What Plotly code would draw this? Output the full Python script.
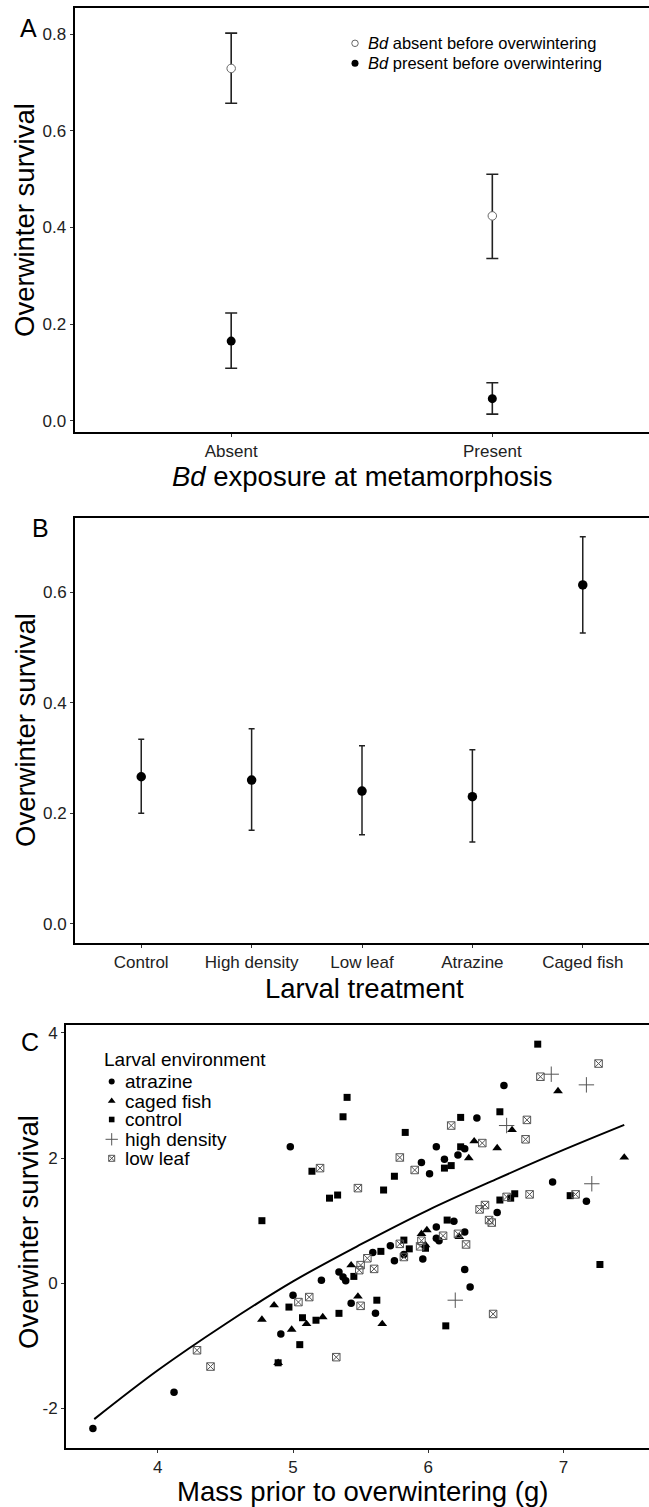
import plotly.graph_objects as go

W, H = 649, 1507
FONT = "Liberation Sans, Arial, sans-serif"

# ---------------- Panel A data ----------------
A_categories = ["Absent", "Present"]
A_absent_mean = [0.729, 0.424]      # Bd absent before overwintering (open)
A_absent_upper = [0.802, 0.510]
A_absent_lower = [0.657, 0.336]
A_present_mean = [0.165, 0.046]     # Bd present before overwintering (filled)
A_present_upper = [0.223, 0.079]
A_present_lower = [0.109, 0.014]
A_yticks = [0.0, 0.2, 0.4, 0.6, 0.8]

# ---------------- Panel B data ----------------
B_categories = ["Control", "High density", "Low leaf", "Atrazine", "Caged fish"]
B_mean = [0.266, 0.260, 0.240, 0.230, 0.613]
B_upper = [0.334, 0.353, 0.322, 0.315, 0.700]
B_lower = [0.200, 0.169, 0.161, 0.148, 0.526]
B_yticks = [0.0, 0.2, 0.4, 0.6]

# ---------------- Panel C data ----------------
atrazine_x = [4.98, 6.56, 6.36, 6.06, 6.27, 6.22, 6.12, 5.95, 6.01, 6.92, 7.17, 6.51, 6.19, 6.06,
              6.06, 6.08, 6.27, 5.72, 5.82, 5.75, 5.96, 5.59, 5.34, 5.37, 5.39, 5.43, 5.61, 6.27,
              6.31, 3.52, 4.12, 4.91, 5.00, 5.21]
atrazine_y = [2.18, 3.16, 2.64, 2.18, 2.15, 2.05, 1.98, 1.93, 1.75, 1.62, 1.31, 1.13, 0.99, 0.90,
              0.72, 0.68, 0.82, 0.60, 0.46, 0.36, 0.39, 0.49, 0.18, 0.10, 0.04, -0.32, -0.48, 0.22,
              -0.06, -2.32, -1.74, -0.81, -0.19, 0.05]
caged_x = [6.96, 6.62, 6.34, 6.51, 6.30, 7.45, 5.99, 5.95, 6.23, 5.98, 5.43, 5.48, 5.66, 4.77,
           4.86, 4.89, 4.99, 5.10, 5.22]
caged_y = [3.07, 2.45, 2.27, 2.16, 2.00, 2.01, 0.85, 0.79, 0.74, 0.61, 0.29, -0.21, -0.65, -0.58,
           -0.35, -1.27, -0.74, -0.65, -0.54]
control_x = [5.40, 5.37, 5.14, 5.27, 5.33, 4.77, 6.81, 6.53, 6.24, 5.83, 6.24, 6.17, 6.12, 5.75,
             5.67, 7.05, 6.64, 6.61, 6.53, 6.14, 5.82, 5.98, 5.86, 5.65, 5.45, 5.62, 5.34, 6.13,
             7.27, 4.89, 4.97, 5.07, 5.05, 5.17]
control_y = [2.97, 2.66, 1.79, 1.36, 1.41, 1.00, 3.82, 2.74, 2.65, 2.41, 2.18, 1.88, 1.84, 1.71,
             1.49, 1.40, 1.43, 1.36, 1.33, 1.01, 0.69, 0.56, 0.55, 0.51, 0.11, -0.27, -0.48, -0.68,
             0.30, -1.27, -0.38, -0.55, -0.98, -0.59]
highdens_x = [6.91, 7.17, 6.58, 7.21, 6.20]
highdens_y = [3.34, 3.17, 2.52, 1.59, -0.27]
lowleaf_x = [5.20, 5.48, 7.26, 6.83, 6.17, 6.73, 6.72, 6.40, 5.79, 5.90, 7.09, 6.75, 6.58, 6.42,
             6.38, 6.45, 6.47, 6.11, 6.22, 6.28, 5.79, 5.95, 5.94, 5.82, 5.55, 5.50, 5.49, 5.60,
             5.50, 5.32, 6.48, 4.29, 4.39, 5.04, 5.12]
lowleaf_y = [1.84, 1.52, 3.51, 3.30, 2.52, 2.61, 2.30, 2.24, 2.01, 1.81, 1.42, 1.42, 1.38, 1.25,
             1.18, 1.01, 0.97, 0.76, 0.79, 0.62, 0.63, 0.68, 0.59, 0.42, 0.40, 0.29, 0.21, 0.23,
             -0.36, -1.18, -0.49, -1.07, -1.33, -0.30, -0.22]
curve_x = [3.53, 4.0, 4.5, 5.0, 5.5, 6.0, 6.5, 7.0, 7.45]
curve_y = [-2.17, -1.39, -0.65, 0.03, 0.62, 1.17, 1.66, 2.13, 2.53]
C_xticks = [4, 5, 6, 7]
C_yticks = [-2, 0, 2, 4]

C_groups = [
    ("atrazine", atrazine_x, atrazine_y, dict(symbol="circle", size=7.5, color="black")),
    ("caged fish", caged_x, caged_y, dict(symbol="triangle-up", size=8.5, color="black")),
    ("control", control_x, control_y, dict(symbol="square", size=7, color="black")),
    ("high density", highdens_x, highdens_y,
     dict(symbol="cross-thin-open", size=11, color="#555", line=dict(width=1, color="#555"))),
    ("low leaf", lowleaf_x, lowleaf_y,
     dict(symbol="square-x-open", size=7.5, color="#555", line=dict(width=1, color="#555"))),
]

# ---------------- layout constants (pixels) ----------------
A_box = (74.5, 8, 649, 432)
B_box = (75, 518, 649, 942.6)
C_box = (66, 1025, 649, 1448)


def xdom(b):
    return [b[0] / W, b[2] / W]


def ydom(b):
    return [1 - b[3] / H, 1 - b[1] / H]


fig = go.Figure()

# Panel A
fig.add_trace(go.Scatter(
    x=A_categories, y=A_absent_mean, mode="markers", xaxis="x", yaxis="y",
    marker=dict(symbol="circle", size=8.5, color="white", line=dict(width=1, color="#666")),
    error_y=dict(type="data", symmetric=False,
                 array=[u - m for u, m in zip(A_absent_upper, A_absent_mean)],
                 arrayminus=[m - l for m, l in zip(A_absent_mean, A_absent_lower)],
                 color="#222", thickness=1.6, width=6),
    showlegend=False))
fig.add_trace(go.Scatter(
    x=A_categories, y=A_present_mean, mode="markers", xaxis="x", yaxis="y",
    marker=dict(symbol="circle", size=9, color="black"),
    error_y=dict(type="data", symmetric=False,
                 array=[u - m for u, m in zip(A_present_upper, A_present_mean)],
                 arrayminus=[m - l for m, l in zip(A_present_mean, A_present_lower)],
                 color="#222", thickness=1.6, width=6),
    showlegend=False))

# Panel B
fig.add_trace(go.Scatter(
    x=B_categories, y=B_mean, mode="markers", xaxis="x2", yaxis="y2",
    marker=dict(symbol="circle", size=9.5, color="black"),
    error_y=dict(type="data", symmetric=False,
                 array=[u - m for u, m in zip(B_upper, B_mean)],
                 arrayminus=[m - l for m, l in zip(B_mean, B_lower)],
                 color="#222", thickness=1.5, width=3),
    showlegend=False))

# Panel C
for name, xs, ys, mk in C_groups:
    fig.add_trace(go.Scatter(x=xs, y=ys, mode="markers", xaxis="x3", yaxis="y3",
                             marker=mk, name=name, showlegend=False))
fig.add_trace(go.Scatter(x=curve_x, y=curve_y, mode="lines", xaxis="x3", yaxis="y3",
                         line=dict(color="black", width=2, shape="spline", smoothing=1.0),
                         showlegend=False))

# Legend keys on a full-page pixel overlay axis
legA = [(355, 43.3, dict(symbol="circle", size=6.5, color="white", line=dict(width=1, color="#666"))),
        (355, 63.3, dict(symbol="circle", size=7, color="black"))]
legA_text = ["<i>Bd</i> absent before overwintering", "<i>Bd</i> present before overwintering"]
legC_rows = [1081.5, 1101, 1119.5, 1139.3, 1158.3]
legC_key_x = 111.7
for (lx, ly, mk) in legA:
    fig.add_trace(go.Scatter(x=[lx], y=[ly], mode="markers", xaxis="x4", yaxis="y4",
                             marker=mk, showlegend=False, hoverinfo="skip"))
for (name, xs, ys, mk), ly in zip(C_groups, legC_rows):
    mk2 = dict(mk)
    mk2["size"] = mk["size"] * 0.8
    fig.add_trace(go.Scatter(x=[legC_key_x], y=[ly], mode="markers", xaxis="x4", yaxis="y4",
                             marker=mk2, showlegend=False, hoverinfo="skip"))

TICKFONT = dict(family=FONT, size=17, color="#222")
axis_common = dict(showgrid=False, zeroline=False, showline=True, linecolor="black", linewidth=1.8,
                   ticks="outside", ticklen=3, tickwidth=1.2, tickcolor="#333", tickfont=TICKFONT)

fig.update_layout(
    width=W, height=H, margin=dict(l=0, r=0, t=0, b=0),
    paper_bgcolor="white", plot_bgcolor="rgba(0,0,0,0)",
    font=dict(family=FONT, color="black"),
    xaxis=dict(domain=xdom(A_box), anchor="y", type="category", range=[-0.6, 1.6], mirror=True,
               **axis_common),
    yaxis=dict(domain=ydom(A_box), anchor="x", range=[-0.023, 0.854], tickvals=A_yticks,
               tickformat=".1f", **axis_common),
    xaxis2=dict(domain=xdom(B_box), anchor="y2", type="category", range=[-0.6, 4.6], mirror=True,
                **axis_common),
    yaxis2=dict(domain=ydom(B_box), anchor="x2", range=[-0.034, 0.734], tickvals=B_yticks,
                tickformat=".1f", **axis_common),
    xaxis3=dict(domain=xdom(C_box), anchor="y3", range=[3.321, 7.633], tickvals=C_xticks,
                mirror=True, **axis_common),
    yaxis3=dict(domain=ydom(C_box), anchor="x3", range=[-2.631, 4.126], tickvals=C_yticks,
                ticktext=[str(v) for v in C_yticks], **axis_common),
    xaxis4=dict(domain=[0, 1], anchor="y4", range=[0, W], visible=False),
    yaxis4=dict(domain=[0, 1], anchor="x4", range=[H, 0], visible=False),
)


def ann(text, px, py, size, angle=0, xanchor="center"):
    fig.add_annotation(text=text, x=px / W, y=1 - py / H, xref="paper", yref="paper",
                       showarrow=False, textangle=angle, xanchor=xanchor, yanchor="middle",
                       font=dict(family=FONT, size=size, color="black"))


TITLE = 27.5
# Panel labels
ann("A", 29, 28.5, 25)
ann("B", 40, 528, 25)
ann("C", 29.5, 1042, 25)
# Axis titles
ann("Overwinter survival", 24, 220, TITLE, angle=-90)
ann("<i>Bd</i> exposure at metamorphosis", 362, 476, TITLE)
ann("Overwinter survival", 25, 730, TITLE, angle=-90)
ann("Larval treatment", 364, 988, TITLE)
ann("Overwinter survival", 28, 1232, TITLE, angle=-90)
ann("Mass prior to overwintering (g)", 362, 1491, TITLE)
# Legend texts
for t, (lx, ly, mk) in zip(legA_text, legA):
    ann(t, 366, ly, 16.5, xanchor="left")
ann("Larval environment", 101.5, 1059.3, 19, xanchor="left")
for (name, xs, ys, mk), ly in zip(C_groups, legC_rows):
    ann(name, 122.5, ly, 19, xanchor="left")

fig.write_html("out.html")
